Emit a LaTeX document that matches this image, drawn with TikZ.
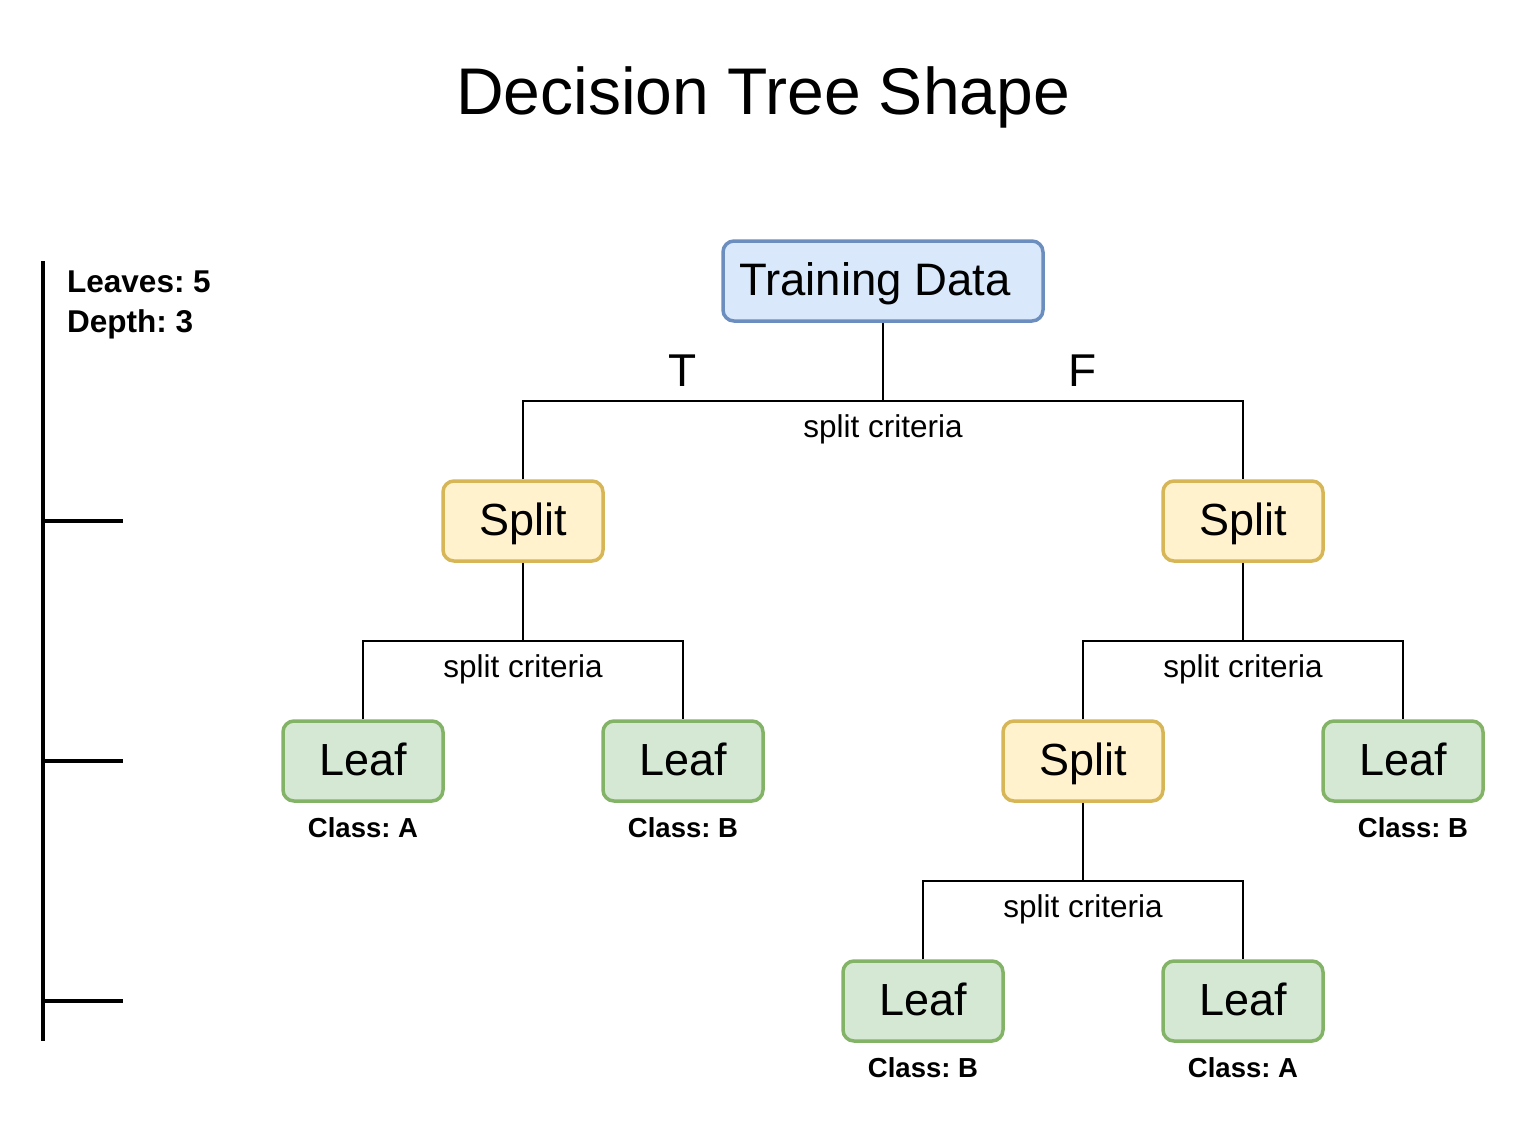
\documentclass[tikz,border=0pt]{standalone}
\usepackage{fontspec}
\setmainfont{Liberation Sans}
\frenchspacing
\definecolor{bluefill}{HTML}{DAE8FC}
\definecolor{blueline}{HTML}{6C8EBF}
\definecolor{yelfill}{HTML}{FFF2CC}
\definecolor{yelline}{HTML}{D6B656}
\definecolor{grnfill}{HTML}{D5E8D4}
\definecolor{grnline}{HTML}{82B366}
\tikzset{
  box/.style={rounded corners=11pt, minimum width=160pt, minimum height=80pt,
    line width=3.5pt, inner sep=0pt, font=\fontsize{45}{54}\selectfont,
    text height=32.4pt, text depth=4pt},
  rootbox/.style={box, draw=blueline, fill=bluefill, minimum width=320pt,
    font=\fontsize{45.5}{54}\selectfont},
  splitbox/.style={box, draw=yelline, fill=yelfill},
  leafbox/.style={box, draw=grnline, fill=grnfill},
  crit/.style={anchor=base, inner sep=0pt, font=\fontsize{31.5}{38}\selectfont},
  cls/.style={anchor=base, inner sep=0pt, font=\bfseries\fontsize{27.5}{33}\selectfont},
  tf/.style={anchor=base, inner sep=0pt, font=\fontsize{46}{55}\selectfont},
  conn/.style={line width=2pt},
  axisline/.style={line width=3.8pt},
}
\begin{document}
\begin{tikzpicture}[x=1pt,y=-1pt]
\useasboundingbox (0,0) rectangle (1524,1128);
% title
\node[anchor=base, inner sep=0pt, font=\fontsize{66}{79}\selectfont] (title) at (763,114) {Decision Tree Shape};
% info
\node[anchor=base west, inner sep=0pt, font=\bfseries\fontsize{31.5}{38}\selectfont] (leaves) at (67,292) {Leaves: 5};
\node[anchor=base west, inner sep=0pt, font=\bfseries\fontsize{31.5}{38}\selectfont] (depth) at (67,332) {Depth: 3};
% axis
\coordinate (axtop) at (43,261);
\coordinate (axbot) at (43,1041);
\coordinate (tk1a) at (43,521); \coordinate (tk1b) at (123,521);
\coordinate (tk2a) at (43,761); \coordinate (tk2b) at (123,761);
\coordinate (tk3a) at (43,1001); \coordinate (tk3b) at (123,1001);
\draw[axisline] (axtop) -- (axbot);
\draw[axisline] (tk1a) -- (tk1b);
\draw[axisline] (tk2a) -- (tk2b);
\draw[axisline] (tk3a) -- (tk3b);
% nodes
\node[rootbox] (td) at (883,281) {Training Data\hspace*{16pt}};
\node[splitbox] (s1) at (523,521) {Split};
\node[splitbox] (s2) at (1243,521) {Split};
\node[leafbox] (l1) at (363,761) {Leaf};
\node[leafbox] (l2) at (683,761) {Leaf};
\node[splitbox] (s3) at (1083,761) {Split};
\node[leafbox] (l3) at (1403,761) {Leaf};
\node[leafbox] (l4) at (923,1001) {Leaf};
\node[leafbox] (l5) at (1243,1001) {Leaf};
% bars
\coordinate (b1) at (883,401);
\coordinate (b2) at (523,641);
\coordinate (b3) at (1243,641);
\coordinate (b4) at (1083,881);
% connectors
\draw[conn] (td.south) -- (b1);
\draw[conn] (s1.north) |- (b1) -| (s2.north);
\draw[conn] (s1.south) -- (b2);
\draw[conn] (l1.north) |- (b2) -| (l2.north);
\draw[conn] (s2.south) -- (b3);
\draw[conn] (s3.north) |- (b3) -| (l3.north);
\draw[conn] (s3.south) -- (b4);
\draw[conn] (l4.north) |- (b4) -| (l5.north);
% labels
\node[tf] (tl) at (683,386) {T};
\node[tf] (fl) at (1083,386) {F};
\node[crit] (c1) at (883,437) {split criteria};
\node[crit] (c2) at (523,677) {split criteria};
\node[crit] (c3) at (1243,677) {split criteria};
\node[crit] (c4) at (1083,917) {split criteria};
\node[cls] (k1) at (363,837) {Class: A};
\node[cls] (k2) at (683,837) {Class: B};
\node[cls] (k3) at (1413,837) {Class: B};
\node[cls] (k4) at (923,1077) {Class: B};
\node[cls] (k5) at (1243,1077) {Class: A};
\end{tikzpicture}
\end{document}
